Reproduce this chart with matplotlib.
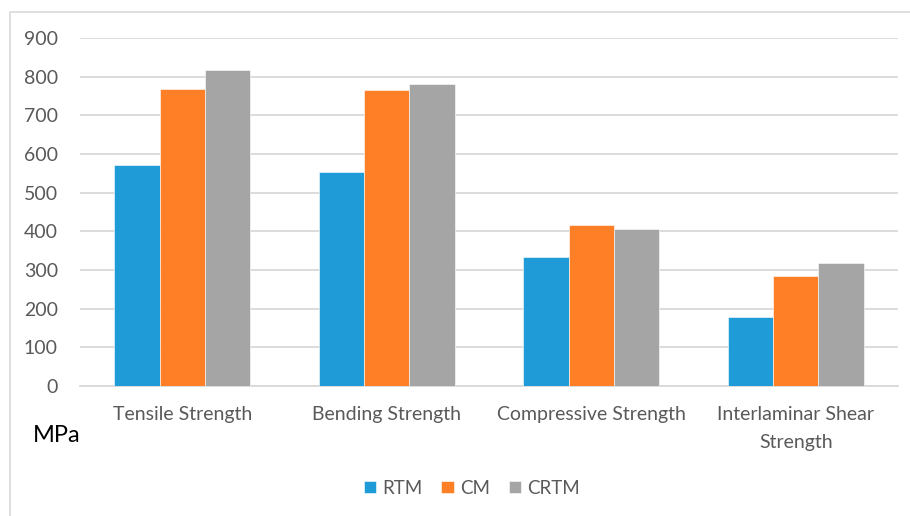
import numpy as np
import matplotlib.pyplot as plt
from matplotlib.patches import Rectangle

# strength of the laminates for each moulding process
categories = ["Tensile Strength", "Bending Strength", "Compressive Strength",
              "Interlaminar Shear\nStrength"]
rtm = [571, 553, 334, 178]
cm = [767, 766, 416, 285]
crtm = [816, 781, 407, 317]
yticks = [0, 100, 200, 300, 400, 500, 600, 700, 800, 900]

plt.rcParams['font.family'] = ['Lato', 'DejaVu Sans']

fig = plt.figure(figsize=(9.1, 5.16), dpi=100)
ax = fig.add_axes([80/910, 130/516, 818/910, 348/516])

# light frame round the whole chart
fig.patches.append(Rectangle((10/910, -0.1), 1.0, 1 - 12/516 + 0.1,
                             transform=fig.transFigure, fill=False,
                             edgecolor="#d9d9d9", linewidth=1.2))

x = np.arange(len(categories))
w = 1 / 4.5
ax.bar(x - w, rtm, w, color="#1f9bd7", label="RTM", zorder=3,
       edgecolor="white", linewidth=0.4)
ax.bar(x, cm, w, color="#fe7f26", label="CM", zorder=3,
       edgecolor="white", linewidth=0.4)
ax.bar(x + w, crtm, w, color="#a5a5a5", label="CRTM", zorder=3,
       edgecolor="white", linewidth=0.4)

ax.set_xlim(-0.5, len(categories) - 0.5)
ax.set_ylim(0, 900)
ax.set_yticks(yticks)
ax.yaxis.grid(True, color="#d9d9d9", linewidth=1.3, zorder=0)
ax.set_axisbelow(True)
for s in ["top", "right", "left"]:
    ax.spines[s].set_visible(False)
ax.spines["bottom"].set_color("#d9d9d9")
ax.spines["bottom"].set_linewidth(1.3)
ax.tick_params(axis="both", length=0, colors="#595959", labelsize=14)
ax.tick_params(axis="y", pad=16)
ax.tick_params(axis="x", pad=14.5)
ax.set_xticks(x)
ax.set_xticklabels(categories, linespacing=1.75)

fig.text(33/910, 1 - 436/516, "MPa", fontsize=17, va="center", ha="left",
         color="black")

ax.legend(loc="center", bbox_to_anchor=(472/910, 1 - 488/516),
          bbox_transform=fig.transFigure, ncol=3, frameon=False,
          fontsize=13.5, handlelength=0.65, handleheight=0.65,
          handletextpad=0.35, columnspacing=1.0, labelcolor="#595959")

fig.savefig("out.png", dpi=100)
